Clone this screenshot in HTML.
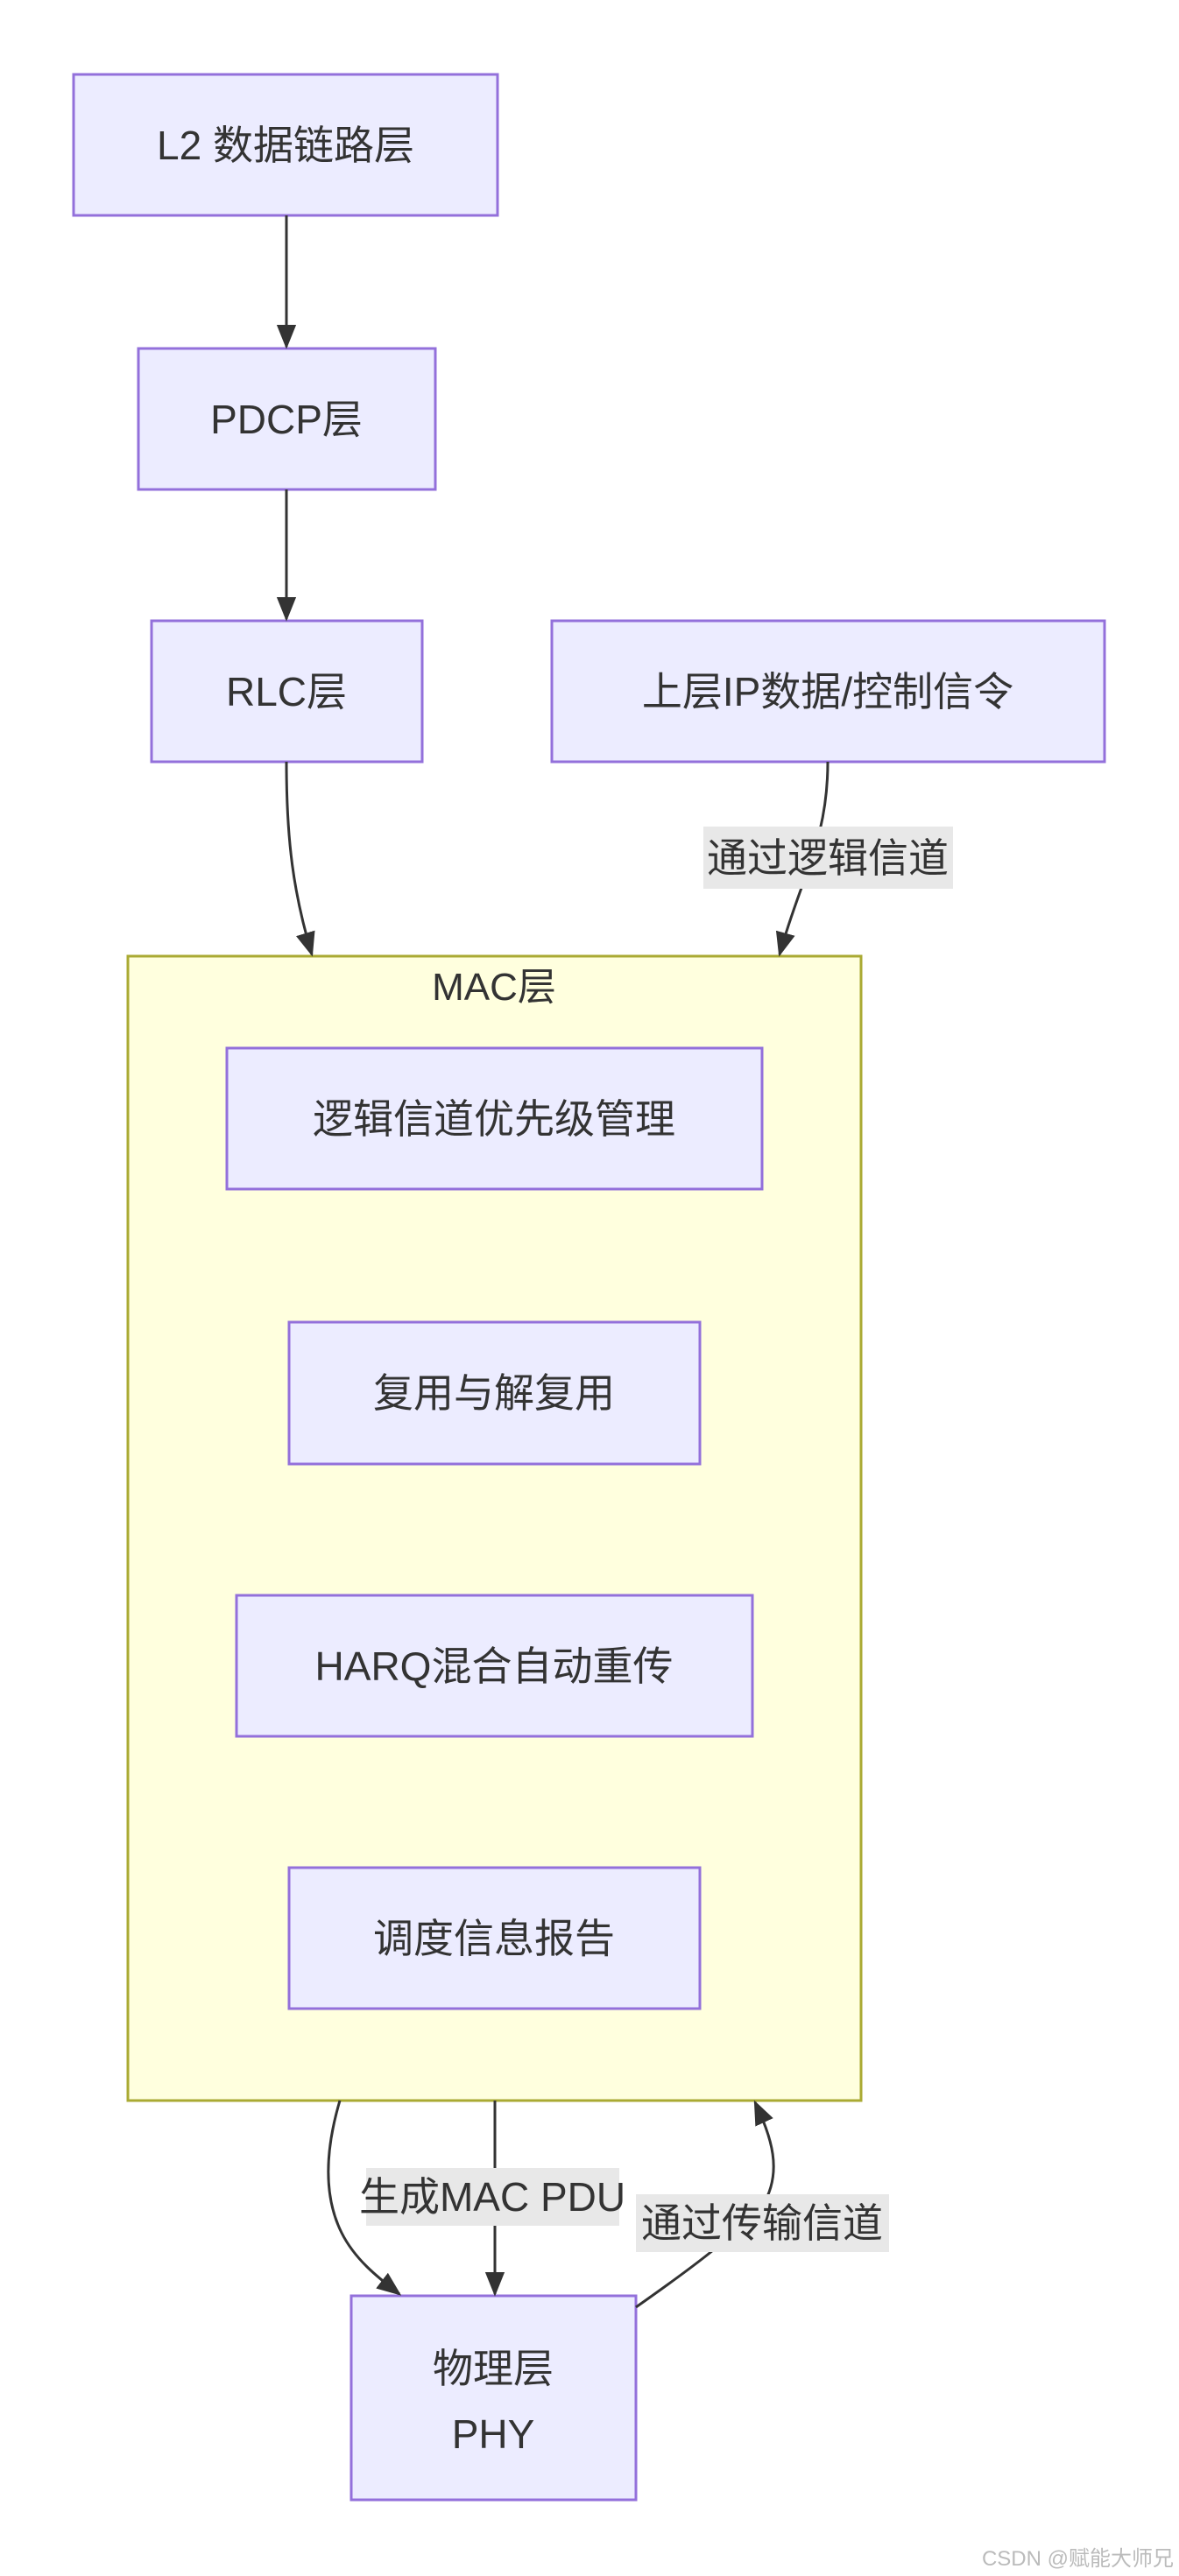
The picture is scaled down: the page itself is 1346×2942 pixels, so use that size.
<!DOCTYPE html>
<html><head><meta charset="utf-8"><style>
html,body{margin:0;padding:0;background:#fff;}
svg{display:block;}
text{font-family:"Liberation Sans","Noto Sans CJK SC",sans-serif;fill:#333;}
</style></head><body>
<svg width="1346" height="2942" viewBox="0 0 1346 2942" xmlns="http://www.w3.org/2000/svg">
<defs>
<marker id="a" viewBox="0 0 10 10" refX="9" refY="5" markerWidth="9" markerHeight="9" markerUnits="userSpaceOnUse" orient="auto"><path d="M0,0 L10,5 L0,10 z" fill="#333"/></marker>
<marker id="b" viewBox="0 0 10 10" refX="9" refY="5" markerWidth="28" markerHeight="28" markerUnits="userSpaceOnUse" orient="auto"><path d="M0,1 L10,5 L0,9 z" fill="#333"/></marker>
</defs>
<!-- cluster -->
<rect x="146" y="1092" width="837" height="1307" fill="#FFFFDE" stroke="#AAAA33" stroke-width="3"/>
<text x="564" y="1142" font-size="44" text-anchor="middle">MAC层</text>

<g fill="#ECECFF" stroke="#9370DB" stroke-width="3">
<rect x="84" y="85" width="484" height="161"/>
<rect x="158" y="398" width="339" height="161"/>
<rect x="173" y="709" width="309" height="161"/>
<rect x="630" y="709" width="631" height="161"/>
<rect x="259" y="1197" width="611" height="161"/>
<rect x="330" y="1510" width="469" height="162"/>
<rect x="270" y="1822" width="589" height="161"/>
<rect x="330" y="2133" width="469" height="161"/>
<rect x="401" y="2622" width="325" height="233"/>
</g>

<g stroke="#333" stroke-width="3" fill="none">
<path d="M327,246 L327,396" marker-end="url(#b)"/>
<path d="M327,559 L327,707" marker-end="url(#b)"/>
<path d="M327,870 C327,960 335,1020 356,1090" marker-end="url(#b)"/>
<path d="M945,870 C945,960 915,1000 890,1090" marker-end="url(#b)"/>
<path d="M388,2399 C370,2460 370,2510 390,2550 C405,2580 430,2600 456,2620" marker-end="url(#b)"/>
<path d="M565,2399 L565,2620" marker-end="url(#b)"/>
<path d="M726,2635 C790,2590 830,2560 870,2520 C895,2480 880,2440 862,2401" marker-end="url(#b)"/>
</g>

<g fill="#e8e8e8">
<rect x="803" y="944" width="285" height="71"/>
<rect x="418" y="2476" width="289" height="66"/>
<rect x="726" y="2506" width="289" height="66"/>
</g>

<g font-size="46" text-anchor="middle">
<text x="326" y="182">L2 数据链路层</text>
<text x="327" y="495">PDCP层</text>
<text x="327" y="806">RLC层</text>
<text x="945" y="806">上层IP数据/控制信令</text>
<text x="564" y="1294">逻辑信道优先级管理</text>
<text x="564" y="1607">复用与解复用</text>
<text x="564" y="1919">HARQ混合自动重传</text>
<text x="564" y="2230">调度信息报告</text>
<text x="563" y="2721">物理层</text>
<text x="563" y="2796">PHY</text>
<text x="945" y="996">通过逻辑信道</text>
<text x="562" y="2525">生成MAC PDU</text>
<text x="870" y="2555">通过传输信道</text>
</g>
<text x="1340" y="2930" font-size="24" text-anchor="end" style="fill:#bbb">CSDN @赋能大师兄</text>
</svg>
</body></html>
